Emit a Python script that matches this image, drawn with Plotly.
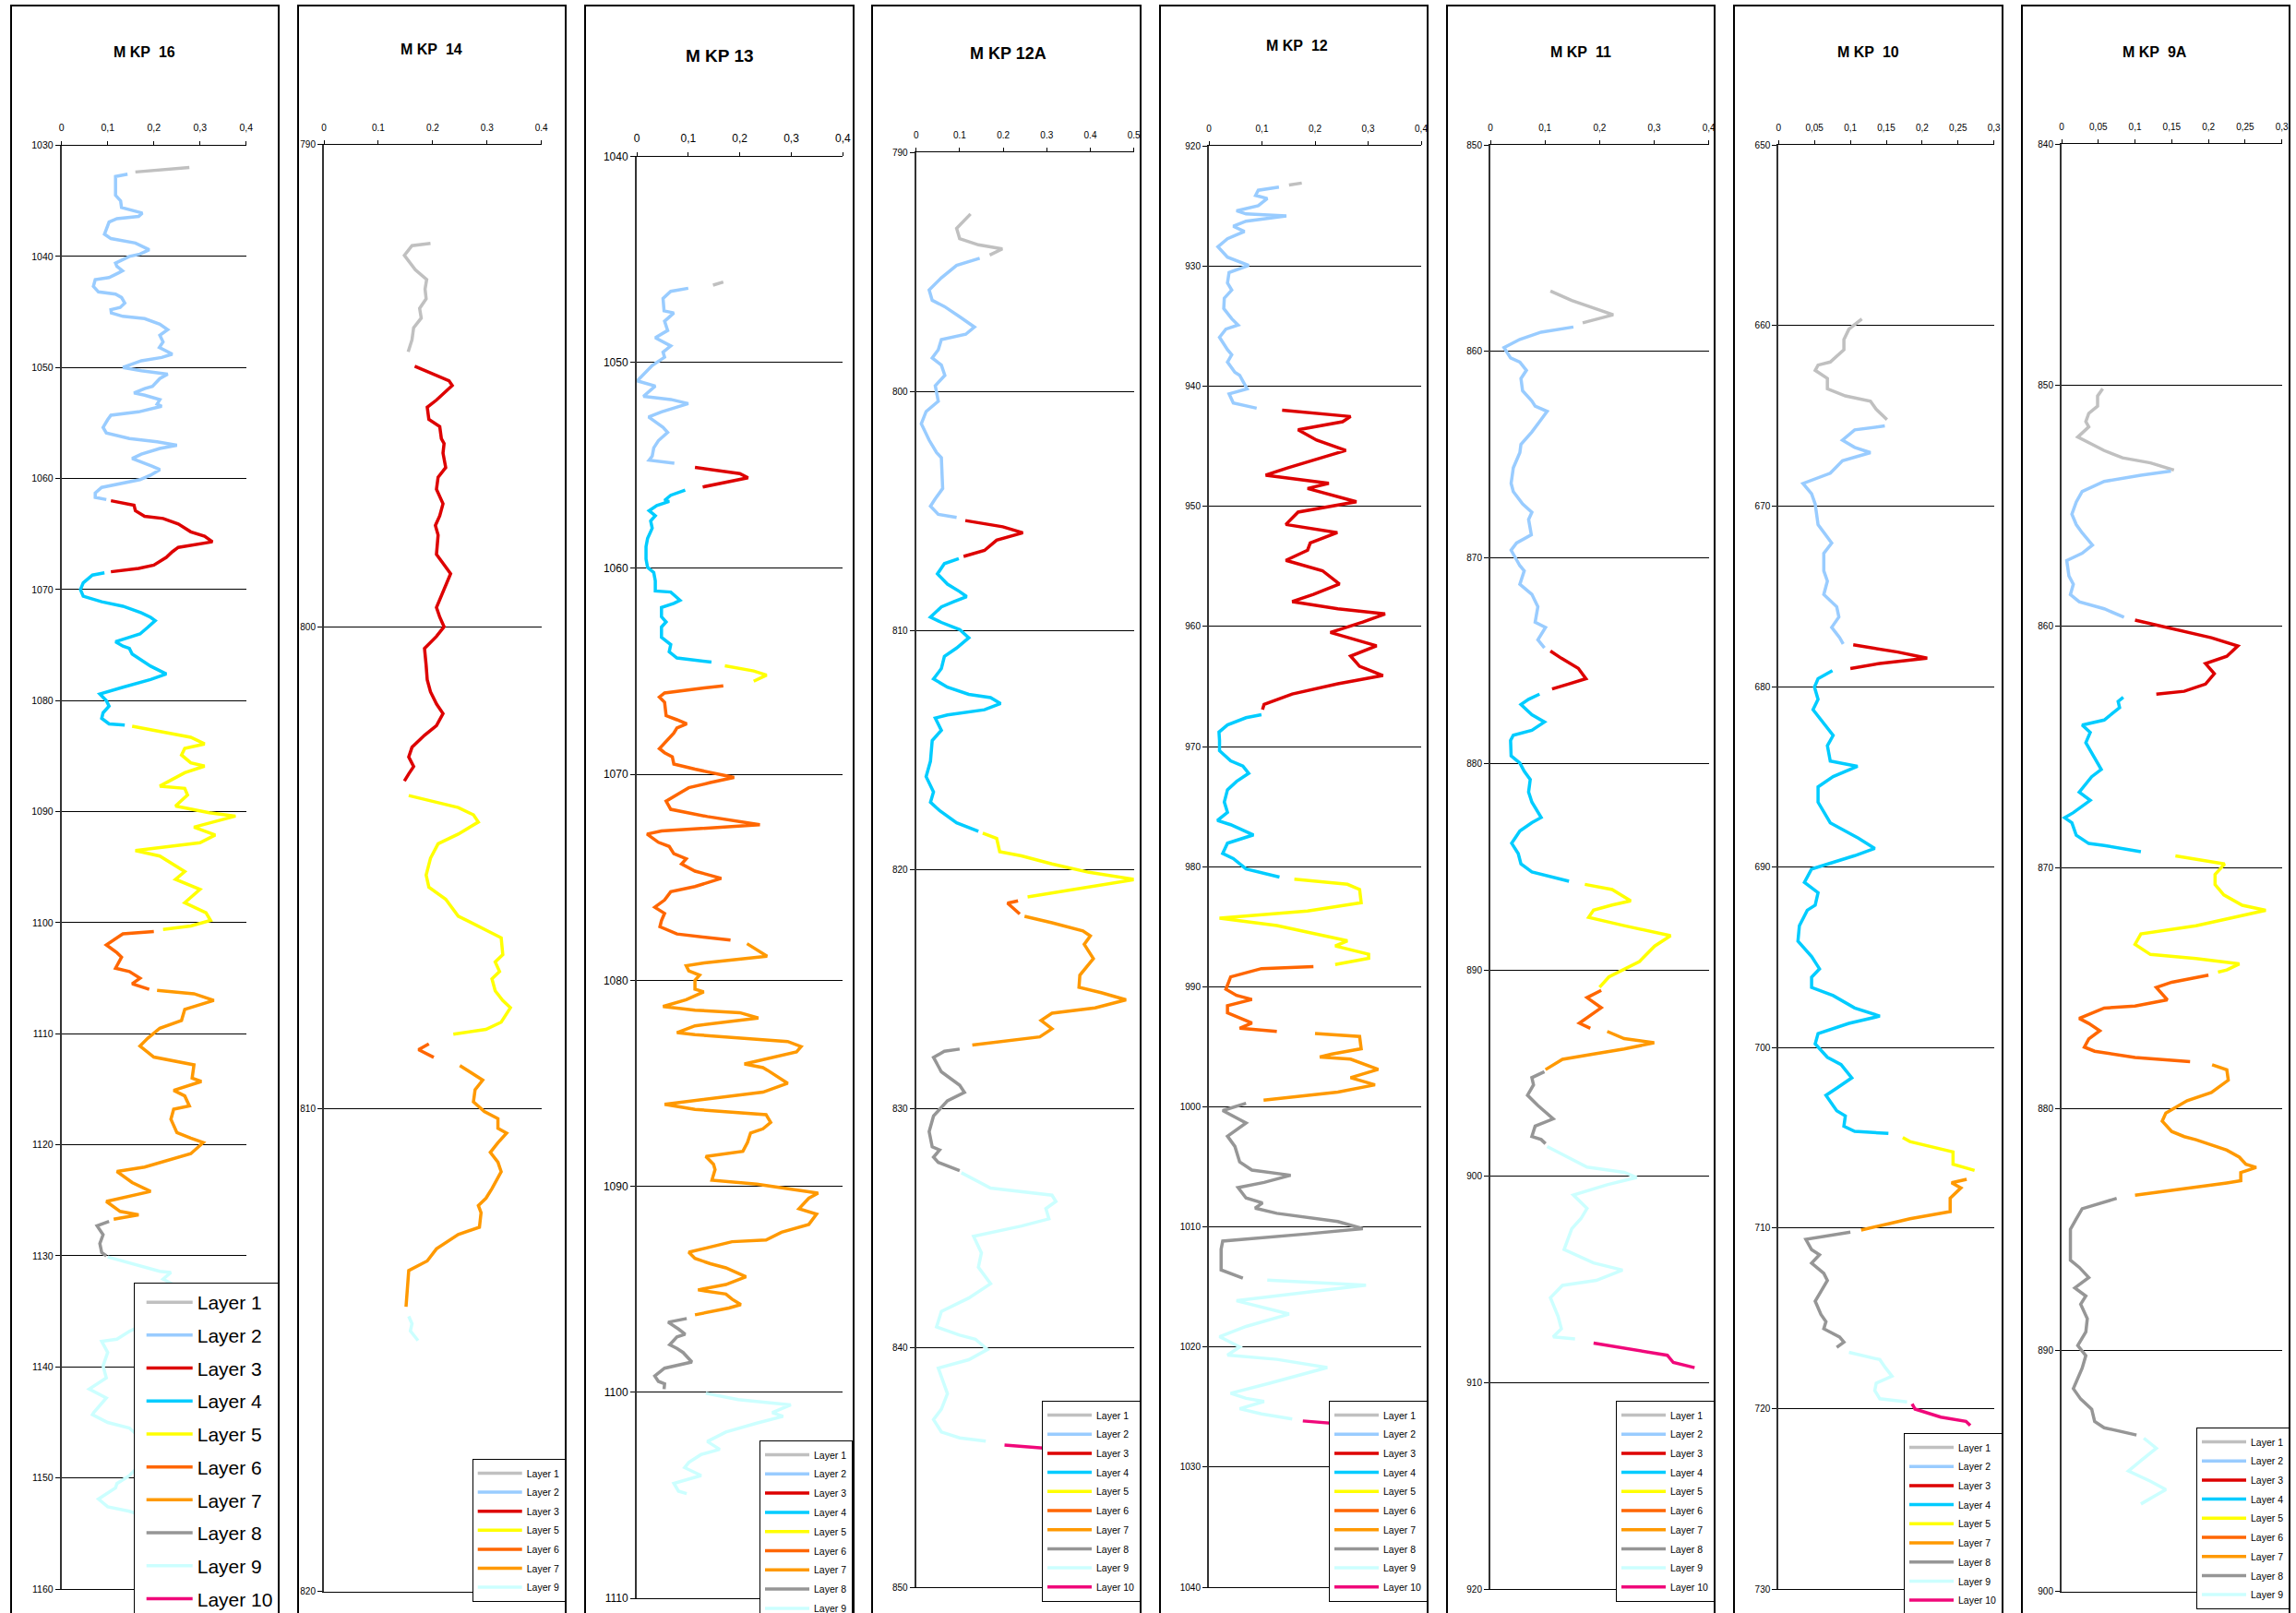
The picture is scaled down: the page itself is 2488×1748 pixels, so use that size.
import plotly.graph_objects as go

# ---------------------------------------------------------------------------
# Porosity logs per well and layer: (depth, porosity) pairs
# ---------------------------------------------------------------------------
LAYER_NAMES = ["Layer 1", "Layer 2", "Layer 3", "Layer 4", "Layer 5",
               "Layer 6", "Layer 7", "Layer 8", "Layer 9", "Layer 10"]

# ---- MKP 16 ----
MKP16_L1 = [(1032.0, .277), (1032.2, .215), (1032.4, .16)]
MKP16_L2 = [(1032.6, .143), (1032.8, .117), (1034.5, .117), (1035.0, .128), (1035.6, .13), (1035.9, .16),
            (1036.1, .175), (1036.4, .167), (1036.6, .12), (1036.9, .103), (1037.4, .099), (1038.0, .093),
            (1038.4, .107), (1038.8, .16), (1039.4, .19), (1039.8, .17), (1040.0, .147), (1040.6, .117),
            (1040.9, .12), (1041.3, .132), (1041.5, .123), (1041.9, .103), (1042.1, .073), (1042.7, .069),
            (1043.2, .08), (1043.4, .117), (1043.7, .13), (1044.2, .137), (1044.6, .127), (1044.8, .107),
            (1045.1, .108), (1045.4, .133), (1045.6, .18), (1046.1, .213), (1046.6, .23), (1047.1, .213),
            (1047.7, .22), (1048.2, .212), (1048.8, .24), (1049.1, .217), (1049.4, .173), (1050.0, .133),
            (1050.3, .173), (1050.6, .23), (1051.0, .213), (1051.7, .197), (1051.9, .18), (1052.3, .157),
            (1052.5, .18), (1052.9, .213), (1053.3, .207), (1053.5, .217), (1054.0, .167), (1054.3, .107),
            (1054.7, .1), (1055.4, .09), (1055.9, .097), (1056.4, .147), (1056.7, .207), (1057.0, .25),
            (1057.3, .213), (1057.8, .173), (1058.2, .153), (1058.5, .173), (1058.9, .197), (1059.2, .213),
            (1059.7, .193), (1060.1, .17), (1060.4, .133), (1060.8, .087), (1061.3, .073), (1061.7, .073),
            (1061.9, .097)]
MKP16_L3 = [(1062.0, .107), (1062.2, .133), (1062.4, .157), (1062.9, .16), (1063.4, .18), (1063.6, .22),
            (1064.1, .253), (1064.8, .28), (1065.2, .31), (1065.7, .327), (1065.9, .293), (1066.2, .253),
            (1066.6, .24), (1067.1, .227), (1067.8, .2), (1068.1, .167), (1068.4, .107)]
MKP16_L4 = [(1068.5, .093), (1068.7, .067), (1069.4, .047), (1070.0, .041), (1070.6, .047), (1071.1, .087),
            (1071.5, .133), (1072.1, .173), (1072.5, .193), (1072.8, .203), (1073.4, .187), (1074.0, .17),
            (1074.3, .147), (1074.7, .117), (1075.1, .133), (1075.3, .147), (1075.8, .153), (1076.5, .18),
            (1076.9, .193), (1077.6, .227), (1078.1, .193), (1078.8, .133), (1079.4, .083), (1080.0, .097),
            (1080.5, .103), (1081.1, .09), (1081.6, .087), (1082.1, .103), (1082.2, .137)]
MKP16_L5 = [(1082.3, .153), (1082.9, .233), (1083.3, .28), (1083.9, .31), (1084.3, .267), (1084.9, .26),
            (1085.6, .28), (1085.9, .31), (1086.5, .267), (1087.7, .213), (1087.9, .267), (1088.5, .273),
            (1089.5, .247), (1090.1, .32), (1090.4, .377), (1091.4, .287), (1092.1, .333), (1092.8, .3),
            (1093.5, .16), (1094.0, .213), (1095.4, .267), (1096.1, .247), (1097.0, .3), (1098.2, .267),
            (1099.1, .313), (1099.8, .323), (1100.3, .28), (1100.6, .22)]
MKP16_L6 = [(1100.8, .2), (1101.0, .133), (1102.0, .097), (1102.7, .12), (1103.1, .13), (1104.1, .117),
            (1104.4, .147), (1105.0, .17), (1105.5, .153), (1106.0, .19)]
MKP16_L7 = [(1106.1, .207), (1106.4, .287), (1107.0, .33), (1107.8, .267), (1108.8, .26), (1109.5, .213),
            (1110.4, .187), (1111.1, .17), (1112.1, .2), (1112.8, .287), (1114.0, .283), (1114.3, .303),
            (1115.1, .243), (1115.6, .267), (1116.5, .277), (1116.8, .243), (1117.7, .237), (1118.9, .25),
            (1119.4, .28), (1119.8, .307), (1120.8, .28), (1121.3, .24), (1122.0, .18), (1122.4, .12),
            (1123.4, .153), (1124.2, .193), (1124.6, .147), (1125.1, .097), (1126.0, .127), (1126.3, .167),
            (1126.7, .113)]
MKP16_L8 = [(1126.9, .103), (1127.3, .077), (1128.1, .09), (1128.9, .083), (1129.7, .087), (1130.0, .097)]
MKP16_L9 = [(1130.1, .1), (1130.9, .173), (1131.4, .213), (1131.5, .237), (1132.1, .22), (1132.6, .243),
            (1134.5, .26), (1136.8, .147), (1137.5, .12), (1137.7, .087), (1138.7, .1), (1139.9, .09),
            (1141.0, .097), (1142.0, .06), (1142.8, .097), (1144.1, .07), (1144.3, .067), (1145.0, .1),
            (1145.5, .147), (1147.5, .2), (1149.8, .147), (1150.5, .12), (1150.9, .117), (1151.9, .08),
            (1152.6, .1), (1153.0, .147), (1154.0, .22)]
MKP16_L10 = []

# ---- MKP 14 ----
MKP14_L1 = [(792.05, .196), (792.1, .162), (792.3, .148), (792.6, .168), (792.8, .189), (793.0, .186),
            (793.2, .188), (793.4, .176), (793.6, .179), (793.8, .165), (794.05, .162), (794.3, .155)]
MKP14_L2 = []
MKP14_L3 = [(794.6, .167), (794.9, .23), (795.0, .236), (795.3, .207), (795.45, .19), (795.7, .193),
            (795.85, .213), (796.1, .216), (796.2, .221), (796.4, .219), (796.7, .224), (796.9, .21),
            (797.15, .207), (797.45, .219), (797.7, .213), (797.9, .205), (798.1, .21), (798.5, .207),
            (798.9, .233), (799.3, .219), (799.6, .207), (799.8, .213), (800.0, .221), (800.2, .207),
            (800.45, .185), (800.8, .188), (801.1, .19), (801.35, .196), (801.6, .207), (801.8, .219),
            (802.05, .207), (802.25, .185), (802.5, .162), (802.7, .156), (802.9, .165), (803.05, .156),
            (803.2, .148)]
MKP14_L5 = [(803.5, .156), (803.75, .247), (803.9, .275), (804.05, .284), (804.3, .247), (804.5, .21),
            (804.8, .196), (805.15, .188), (805.4, .193), (805.65, .224), (806.0, .247), (806.2, .281),
            (806.45, .326), (806.8, .329), (806.95, .315), (807.15, .323), (807.3, .309), (807.55, .315),
            (807.75, .329), (807.9, .343), (808.2, .326), (808.35, .298), (808.45, .238)]
MKP14_L6 = [(808.65, .193), (808.77, .174), (808.93, .202)]
MKP14_L7 = [(809.1, .25), (809.3, .278), (809.4, .292), (809.6, .278), (809.85, .275), (810.05, .295),
            (810.2, .32), (810.4, .32), (810.5, .336), (810.7, .32), (810.9, .306), (811.1, .32),
            (811.3, .326), (811.65, .309), (811.85, .298), (812.0, .284), (812.15, .289), (812.45, .286),
            (812.6, .247), (812.9, .207), (813.15, .19), (813.35, .156), (813.65, .154), (814.1, .151)]
MKP14_L9 = [(814.3, .156), (814.45, .162), (814.6, .159), (814.8, .173)]

# ---- MKP 13 ----
MKP13_L1 = [(1046.1, .168), (1046.25, .148)]
MKP13_L2 = [(1046.4, .1), (1046.55, .066), (1046.9, .051), (1047.5, .053), (1047.6, .072), (1048.0, .054),
            (1048.45, .06), (1048.8, .036), (1049.2, .066), (1049.5, .051), (1049.75, .054), (1050.15, .03),
            (1050.9, .001), (1051.15, .036), (1051.65, .013), (1051.8, .066), (1052.0, .1), (1052.4, .048),
            (1052.65, .023), (1052.9, .036), (1053.15, .051), (1053.4, .06), (1053.8, .042), (1054.15, .033),
            (1054.55, .03), (1054.75, .024), (1054.85, .054), (1054.9, .073)]
MKP13_L3 = [(1055.1, .113), (1055.4, .2), (1055.6, .216), (1056.05, .128)]
MKP13_L4 = [(1056.2, .094), (1056.45, .066), (1056.7, .054), (1056.75, .063), (1056.95, .039), (1057.2, .024),
            (1057.45, .036), (1057.7, .027), (1058.05, .03), (1058.55, .021), (1058.95, .018), (1059.55, .018),
            (1059.95, .021), (1060.2, .033), (1060.6, .036), (1061.1, .036), (1061.15, .066), (1061.55, .084),
            (1061.7, .072), (1061.9, .048), (1062.35, .048), (1062.6, .057), (1062.85, .048), (1063.35, .048),
            (1063.7, .066), (1064.05, .063), (1064.35, .078), (1064.55, .145)]
MKP13_L5 = [(1064.73, .171), (1064.98, .227), (1065.18, .252), (1065.48, .227)]
MKP13_L6 = [(1065.7, .168), (1065.8, .131), (1066.05, .054), (1066.25, .044), (1066.5, .054), (1067.15, .057),
            (1067.35, .078), (1067.55, .097), (1067.75, .078), (1068.0, .072), (1068.75, .044), (1068.95, .054),
            (1069.15, .069), (1069.5, .072), (1069.75, .113), (1070.15, .189), (1070.4, .143), (1070.65, .101),
            (1070.9, .084), (1071.3, .057), (1071.7, .066), (1072.05, .137), (1072.45, .239), (1072.75, .048),
            (1072.9, .02), (1073.3, .042), (1073.5, .063), (1073.85, .072), (1074.1, .096), (1074.35, .087),
            (1074.7, .113), (1075.05, .164), (1075.45, .113), (1075.7, .066), (1076.1, .054), (1076.45, .035),
            (1076.75, .054), (1077.1, .048), (1077.4, .045), (1077.75, .078), (1078.05, .182)]
MKP13_L7 = [(1078.22, .214), (1078.53, .233), (1078.83, .253), (1079.16, .131), (1079.29, .096), (1079.54, .101),
            (1079.75, .122), (1080.0, .113), (1080.43, .113), (1080.56, .13), (1080.94, .096), (1081.27, .051),
            (1081.45, .113), (1081.57, .2), (1081.83, .236), (1082.21, .113), (1082.54, .078), (1082.64, .113),
            (1082.97, .293), (1083.22, .319), (1083.48, .31), (1084.06, .209), (1084.24, .245), (1084.37, .254),
            (1085.0, .293), (1085.43, .245), (1086.02, .054), (1086.27, .113), (1086.52, .251), (1086.9, .26),
            (1087.21, .245), (1087.41, .221), (1087.87, .215), (1088.3, .206), (1088.55, .134), (1088.93, .149),
            (1089.19, .152), (1089.7, .146), (1089.9, .233), (1090.33, .352), (1090.58, .334), (1091.09, .315),
            (1091.35, .349), (1091.85, .334), (1092.23, .281), (1092.61, .251), (1092.69, .185), (1093.2, .101),
            (1093.5, .113), (1093.76, .143), (1093.96, .173), (1094.39, .212), (1094.77, .173), (1095.03, .119),
            (1095.23, .173), (1095.48, .185), (1095.74, .202), (1095.91, .179), (1096.24, .113)]
MKP13_L8 = [(1096.42, .097), (1096.6, .061), (1096.93, .081), (1097.18, .094), (1097.31, .078), (1097.69, .064),
            (1097.87, .078), (1098.07, .09), (1098.53, .107), (1098.83, .054), (1099.21, .035), (1099.47, .042),
            (1099.59, .054), (1099.85, .053)]
MKP13_L9 = [(1100.05, .134), (1100.36, .197), (1100.61, .299), (1100.99, .263), (1101.17, .284), (1101.5, .233),
            (1101.93, .173), (1102.39, .137), (1102.77, .161), (1103.02, .125), (1103.41, .101), (1103.66, .093),
            (1104.04, .125), (1104.42, .072), (1104.8, .081), (1104.92, .097)]

# ---- MKP 12A ----
MKP12A_L1 = [(792.58, .125), (793.18, .093), (793.61, .1), (793.87, .143), (794.04, .198), (794.3, .169)]
MKP12A_L2 = [(794.43, .146), (794.73, .093), (795.25, .058), (795.76, .03), (796.19, .037), (796.45, .065),
             (796.88, .1), (797.31, .134), (797.61, .114), (797.83, .058), (798.26, .051), (798.6, .037),
             (798.9, .058), (799.33, .066), (799.76, .044), (800.41, .051), (800.84, .023), (801.35, .012),
             (802.04, .03), (802.56, .047), (802.77, .058), (804.06, .061), (804.49, .044), (804.8, .033),
             (805.14, .051), (805.27, .093)]
MKP12A_L3 = [(805.4, .113), (805.66, .199), (805.91, .245), (806.22, .185), (806.65, .157), (806.9, .109)]
MKP12A_L4 = [(806.99, .098), (807.2, .065), (807.63, .049), (808.06, .072), (808.37, .1), (808.58, .116),
             (808.8, .086), (809.01, .058), (809.44, .033), (809.66, .058), (809.96, .1), (810.3, .121),
             (810.73, .093), (811.08, .065), (811.59, .058), (812.02, .04), (812.37, .072), (812.67, .121),
             (812.8, .171), (813.05, .194), (813.31, .157), (813.53, .072), (813.66, .044), (814.17, .058),
             (814.6, .037), (815.46, .033), (816.11, .023), (816.75, .04), (817.18, .033), (817.53, .054),
             (818.04, .093), (818.39, .143)]
MKP12A_L5 = [(818.47, .153), (818.69, .185), (819.25, .192), (819.42, .242), (819.76, .312), (820.11, .397),
             (820.41, .503), (820.75, .383), (821.14, .256)]
MKP12A_L6 = [(821.3, .234), (821.4, .21), (821.85, .238)]
MKP12A_L7 = [(821.95, .249), (822.22, .312), (822.56, .383), (822.77, .4), (823.12, .386), (823.72, .407),
             (824.41, .376), (824.92, .374), (825.14, .425), (825.44, .482), (825.78, .411), (826.0, .312),
             (826.3, .287), (826.65, .312), (826.99, .284), (827.33, .129)]
MKP12A_L8 = [(827.5, .1), (827.59, .065), (827.85, .04), (828.45, .058), (829.01, .1), (829.31, .111),
             (829.66, .072), (830.3, .04), (830.95, .03), (831.59, .037), (831.72, .054), (832.02, .04),
             (832.24, .051), (832.58, .1)]
MKP12A_L9 = [(832.67, .104), (833.31, .171), (833.61, .312), (833.87, .321), (834.17, .298), (834.6, .305),
             (834.9, .242), (835.33, .132), (836.02, .15), (836.62, .143), (837.31, .171), (837.91, .121),
             (838.47, .058), (839.12, .047), (839.46, .1), (839.63, .136), (840.06, .164), (840.49, .121),
             (840.84, .051), (841.91, .072), (842.56, .058), (842.99, .04), (843.51, .058), (843.76, .1),
             (843.89, .16)]
MKP12A_L10 = [(844.06, .203), (844.19, .298), (844.35, .38)]

# ---- MKP 12 ----
MKP12_L1 = [(923.08, .175), (923.25, .151)]
MKP12_L2 = [(923.42, .132), (923.68, .093), (924.11, .088), (924.37, .11), (924.97, .093), (925.39, .052),
            (925.65, .07), (925.82, .146), (926.25, .07), (926.68, .046), (927.11, .067), (927.71, .035),
            (928.39, .017), (929.25, .035), (929.93, .075), (930.53, .038), (931.39, .035), (931.99, .043),
            (932.67, .029), (933.53, .028), (934.38, .043), (934.9, .055), (935.24, .032), (935.92, .02),
            (936.95, .035), (937.38, .043), (937.98, .035), (938.84, .049), (939.09, .058), (940.21, .072),
            (940.63, .038), (941.4, .046), (941.83, .09)]
MKP12_L3 = [(942.0, .138), (942.52, .267), (942.95, .252), (943.63, .168), (944.49, .203), (945.34, .258),
            (946.8, .148), (947.4, .107), (948.08, .226), (948.51, .186), (949.62, .278), (950.48, .168),
            (951.51, .145), (952.19, .242), (953.05, .191), (953.65, .186), (954.5, .145), (955.36, .214),
            (956.47, .246), (957.33, .197), (957.93, .157), (958.53, .243), (958.96, .332), (959.64, .29),
            (960.5, .229), (961.61, .316), (962.47, .267), (963.32, .284), (964.09, .328), (964.78, .243),
            (965.63, .157), (966.49, .104), (966.92, .101)]
MKP12_L4 = [(967.35, .099), (967.6, .07), (968.2, .035), (968.8, .019), (969.49, .02), (970.34, .02),
            (971.2, .041), (971.63, .064), (972.23, .075), (972.91, .052), (973.6, .035), (974.62, .029),
            (975.48, .035), (976.16, .016), (976.51, .041), (977.36, .084), (978.05, .035), (978.9, .026),
            (979.33, .046), (980.19, .07), (980.87, .133)]
MKP12_L5 = [(981.04, .161), (981.47, .261), (981.9, .284), (983.01, .287), (983.7, .186), (984.3, .02),
            (984.9, .128), (985.75, .22), (986.18, .261), (986.61, .238), (987.29, .301), (987.64, .301),
            (988.15, .238)]
MKP12_L6 = [(988.32, .197), (988.49, .099), (989.18, .041), (990.21, .032), (990.72, .052), (991.06, .081),
            (991.58, .035), (992.17, .035), (993.03, .081), (993.46, .058), (993.72, .128)]
MKP12_L7 = [(993.89, .2), (994.14, .284), (995.17, .287), (995.6, .232), (995.86, .209), (996.03, .267),
            (996.88, .319), (997.57, .267), (998.17, .313), (998.77, .243), (999.45, .103)]
MKP12_L8 = [(999.71, .07), (1000.31, .026), (1001.34, .07), (1002.45, .035), (1003.3, .049), (1004.59, .058),
            (1005.27, .081), (1005.7, .154), (1006.3, .104), (1006.73, .055), (1007.59, .07), (1008.01, .101),
            (1008.44, .087), (1008.87, .128), (1009.55, .243), (1010.15, .29), (1010.58, .186), (1011.18, .026),
            (1011.87, .023), (1013.58, .023), (1014.26, .064)]
MKP12_L9 = [(1014.43, .11), (1014.86, .296), (1016.15, .052), (1017.26, .151), (1018.29, .07), (1019.14, .02),
            (1020.0, .058), (1020.68, .035), (1021.03, .128), (1021.71, .223), (1023.0, .116), (1023.85, .041),
            (1024.28, .07), (1024.54, .104), (1025.14, .058), (1025.57, .099), (1026.0, .157)]
MKP12_L10 = [(1026.16, .177), (1026.34, .235), (1026.6, .3)]

# ---- MKP 11 ----
MKP11_L1 = [(857.08, .11), (857.53, .149), (858.23, .225), (858.62, .169)]
MKP11_L2 = [(858.82, .152), (859.07, .093), (859.42, .054), (859.82, .025), (860.32, .037), (860.52, .054),
            (860.92, .066), (861.32, .056), (861.91, .059), (862.41, .076), (862.66, .082), (862.91, .104),
            (863.41, .09), (863.91, .076), (864.51, .056), (864.91, .054), (865.65, .042), (866.4, .038),
            (866.8, .042), (867.4, .059), (867.8, .076), (868.15, .07), (868.89, .075), (869.29, .048),
            (869.64, .038), (870.39, .054), (870.64, .062), (871.29, .054), (871.78, .076), (872.38, .087),
            (873.13, .082), (873.38, .101), (873.98, .087), (874.38, .099)]
MKP11_L3 = [(874.53, .11), (874.88, .13), (875.37, .161), (875.87, .175), (876.12, .144), (876.37, .113)]
MKP11_L4 = [(876.62, .09), (876.87, .07), (877.12, .056), (877.62, .076), (877.97, .099), (878.37, .076),
            (878.61, .042), (878.86, .037), (879.61, .038), (879.96, .054), (880.36, .062), (880.76, .073),
            (881.36, .07), (881.85, .076), (882.6, .093), (882.85, .076), (883.25, .054), (883.85, .039),
            (884.35, .051), (884.85, .056), (885.24, .076), (885.69, .144)]
MKP11_L5 = [(885.84, .173), (886.09, .223), (886.64, .257), (886.84, .223), (887.09, .189), (887.44, .18),
            (887.84, .245), (888.33, .33), (888.83, .301), (889.58, .273), (890.33, .217), (890.83, .2)]
MKP11_L6 = [(890.98, .203), (891.33, .177), (891.82, .203), (892.07, .189), (892.57, .163), (892.82, .183)]
MKP11_L7 = [(892.97, .214), (893.32, .245), (893.52, .3), (893.82, .245), (894.07, .189), (894.32, .132),
            (894.82, .101)]
MKP11_L8 = [(894.92, .099), (895.21, .076), (895.56, .079), (896.06, .068), (896.56, .087), (897.21, .115),
            (897.56, .082), (898.06, .076), (898.21, .093), (898.41, .101)]
MKP11_L9 = [(898.55, .104), (899.55, .177), (899.8, .245), (900.05, .268), (900.4, .214), (900.9, .152),
            (901.55, .177), (902.04, .166), (902.54, .149), (903.54, .135), (904.19, .189), (904.54, .242),
            (905.04, .194), (905.28, .132), (905.88, .11), (906.78, .124), (907.38, .13), (907.78, .115),
            (907.88, .155)]
MKP11_L10 = [(908.08, .189), (908.67, .324), (909.02, .335), (909.27, .374)]

# ---- MKP 10 ----
MKP10_L1 = [(659.63, .116), (660.2, .098), (660.77, .091), (661.34, .091), (662.02, .072), (662.19, .055),
            (662.48, .051), (662.93, .068), (663.5, .068), (663.9, .093), (664.19, .128), (664.64, .136),
            (665.21, .151)]
MKP10_L2 = [(665.56, .148), (665.78, .106), (666.35, .089), (666.75, .106), (667.04, .128), (667.49, .089),
            (668.18, .072), (668.75, .034), (669.32, .046), (669.89, .051), (671.03, .055), (671.48, .063),
            (672.05, .074), (672.62, .063), (673.59, .063), (674.16, .068), (674.9, .063), (675.58, .081),
            (676.15, .084), (676.72, .074), (677.29, .085), (677.64, .09)]
MKP10_L3 = [(677.69, .104), (678.09, .166), (678.43, .207), (678.72, .141), (679.0, .1)]
MKP10_L4 = [(679.12, .075), (679.57, .055), (680.03, .05), (680.71, .055), (681.28, .048), (681.85, .059),
            (682.71, .076), (683.28, .068), (684.13, .072), (684.42, .11), (684.99, .076), (685.56, .055),
            (686.41, .055), (687.55, .072), (688.4, .111), (688.97, .134), (689.37, .106), (690.11, .046),
            (690.85, .036), (691.42, .055), (692.11, .051), (692.39, .04), (693.25, .029), (694.1, .027),
            (694.96, .046), (695.64, .057), (696.1, .046), (696.67, .046), (697.12, .076), (697.81, .106),
            (698.26, .141), (698.66, .098), (699.23, .055), (699.8, .051), (700.54, .068), (700.94, .087),
            (701.68, .102), (702.25, .081), (702.65, .066), (703.5, .081), (703.79, .093), (704.36, .091),
            (704.64, .106), (704.76, .153)]
MKP10_L5 = [(704.99, .173), (705.21, .183), (705.78, .243), (706.47, .243), (706.81, .273)]
MKP10_L7 = [(707.3, .262), (707.49, .241), (707.78, .254), (708.35, .239), (709.09, .239), (709.49, .183),
            (709.77, .153), (710.11, .115)]
MKP10_L8 = [(710.23, .1), (710.63, .038), (711.2, .046), (711.48, .057), (711.94, .046), (712.51, .063),
            (712.91, .068), (713.76, .055), (714.05, .051), (714.79, .059), (715.19, .066), (715.58, .063),
            (716.04, .085), (716.32, .091), (716.61, .081)]
MKP10_L9 = [(716.89, .098), (717.29, .141), (717.75, .149), (718.21, .158), (718.6, .136), (719.0, .134),
            (719.46, .141), (719.63, .179)]
MKP10_L10 = [(719.74, .186), (720.03, .19), (720.48, .226), (720.71, .261), (720.94, .267)]

# ---- MKP 9A ----
MKP9A_L1 = [(850.15, .056), (850.45, .049), (850.87, .049), (851.17, .037), (851.51, .033), (851.73, .037),
            (852.15, .022), (852.45, .041), (852.71, .058), (853.01, .083), (853.22, .121), (853.52, .153)]
MKP9A_L2 = [(853.56, .149), (853.73, .108), (853.99, .058), (854.41, .028), (854.84, .02), (855.35, .014),
            (855.78, .02), (856.12, .028), (856.63, .042), (856.97, .028), (857.27, .007), (857.91, .01),
            (858.25, .016), (858.68, .012), (858.98, .024), (859.27, .058), (859.62, .085)]
MKP9A_L3 = [(859.74, .1), (860.04, .142), (860.47, .204), (860.81, .24), (861.24, .225), (861.54, .196),
            (861.96, .208), (862.39, .196), (862.69, .167), (862.81, .129)]
MKP9A_L4 = [(862.94, .084), (863.11, .077), (863.37, .079), (863.88, .058), (864.09, .028), (864.39, .039),
            (864.82, .033), (865.37, .043), (865.93, .054), (866.23, .041), (866.87, .024), (867.21, .039),
            (867.72, .016), (867.93, .004), (868.14, .014), (868.66, .02), (869.0, .037), (869.08, .058),
            (869.34, .108)]
MKP9A_L5 = [(869.51, .155), (869.77, .204), (869.85, .222), (870.28, .209), (870.7, .209), (871.13, .221),
            (871.56, .246), (871.77, .278), (871.98, .246), (872.41, .183), (872.75, .108), (873.18, .1),
            (873.6, .121), (873.77, .183), (873.99, .242), (874.24, .225), (874.33, .213)]
MKP9A_L6 = [(874.46, .2), (874.75, .15), (874.97, .129), (875.48, .144), (875.74, .1), (875.82, .058),
            (876.25, .024), (876.46, .037), (876.76, .052), (877.1, .037), (877.44, .031), (877.61, .045),
            (877.87, .1), (878.04, .175)]
MKP9A_L7 = [(878.17, .205), (878.38, .225), (878.81, .227), (879.32, .204), (879.66, .171), (880.17, .142),
            (880.51, .137), (880.94, .15), (881.15, .167), (881.28, .183), (881.71, .225), (882.0, .242),
            (882.3, .251), (882.43, .265), (882.64, .244), (882.98, .244), (883.07, .225), (883.41, .142),
            (883.58, .1)]
MKP9A_L8 = [(883.71, .075), (884.14, .028), (884.56, .02), (884.99, .012), (886.27, .012), (886.57, .024),
            (886.99, .037), (887.42, .018), (887.76, .033), (888.1, .026), (888.7, .035), (889.25, .033),
            (889.81, .022), (890.23, .033), (890.75, .028), (891.6, .016), (892.03, .026), (892.45, .041),
            (892.96, .045), (893.22, .058), (893.52, .102)]
MKP9A_L9 = [(893.65, .112), (894.07, .129), (894.58, .108), (895.01, .091), (895.44, .121), (895.78, .142),
            (896.08, .125), (896.38, .108)]

# Layers drawn in each well (layer number, series)
WELL_SERIES = {
    "16": [(1, MKP16_L1), (2, MKP16_L2), (3, MKP16_L3), (4, MKP16_L4), (5, MKP16_L5), (6, MKP16_L6),
           (7, MKP16_L7), (8, MKP16_L8), (9, MKP16_L9), (10, MKP16_L10)],
    "14": [(1, MKP14_L1), (2, MKP14_L2), (3, MKP14_L3), (5, MKP14_L5), (6, MKP14_L6), (7, MKP14_L7),
           (9, MKP14_L9)],
    "13": [(1, MKP13_L1), (2, MKP13_L2), (3, MKP13_L3), (4, MKP13_L4), (5, MKP13_L5), (6, MKP13_L6),
           (7, MKP13_L7), (8, MKP13_L8), (9, MKP13_L9)],
    "12A": [(1, MKP12A_L1), (2, MKP12A_L2), (3, MKP12A_L3), (4, MKP12A_L4), (5, MKP12A_L5), (6, MKP12A_L6),
            (7, MKP12A_L7), (8, MKP12A_L8), (9, MKP12A_L9), (10, MKP12A_L10)],
    "12": [(1, MKP12_L1), (2, MKP12_L2), (3, MKP12_L3), (4, MKP12_L4), (5, MKP12_L5), (6, MKP12_L6),
           (7, MKP12_L7), (8, MKP12_L8), (9, MKP12_L9), (10, MKP12_L10)],
    "11": [(1, MKP11_L1), (2, MKP11_L2), (3, MKP11_L3), (4, MKP11_L4), (5, MKP11_L5), (6, MKP11_L6),
           (7, MKP11_L7), (8, MKP11_L8), (9, MKP11_L9), (10, MKP11_L10)],
    "10": [(1, MKP10_L1), (2, MKP10_L2), (3, MKP10_L3), (4, MKP10_L4), (5, MKP10_L5), (7, MKP10_L7),
           (8, MKP10_L8), (9, MKP10_L9), (10, MKP10_L10)],
    "9A": [(1, MKP9A_L1), (2, MKP9A_L2), (3, MKP9A_L3), (4, MKP9A_L4), (5, MKP9A_L5), (6, MKP9A_L6),
           (7, MKP9A_L7), (8, MKP9A_L8), (9, MKP9A_L9)],
}

# Porosity tick labels
TICKS_04_COMMA = ["0", "0,1", "0,2", "0,3", "0,4"]
TICKS_04_DOT = ["0", "0.1", "0.2", "0.3", "0.4"]
TICKS_05_DOT = ["0", "0.1", "0.2", "0.3", "0.4", "0.5"]
TICKS_03_COMMA = ["0", "0,05", "0,1", "0,15", "0,2", "0,25", "0,3"]

# ---------------------------------------------------------------------------
# Styling
# ---------------------------------------------------------------------------
W, H = 2488, 1748
FONT = "Liberation Sans, Arial, sans-serif"
LAYER_COLORS = ["#C0C0C0", "#99CCFF", "#DD0000", "#00CCFF", "#FFFF00",
                "#FF6600", "#FF9900", "#969696", "#CCFFFF", "#F0087A"]

# panel geometry in pixels
PANELS = [
    dict(well="16", title="M KP\u00a0\u00a016", frame=(12, 302), px=(66.7, 266.7), py=(157.5, 1722),
         depth=(1030, 1160), xmax=0.4, ticks=TICKS_04_COMMA, tfont=10.5, title_xy=(156, 56), title_size=16,
         leg=dict(right=301.7, top=1390, size=21, gap=5.4, iw=50, indent=8)),
    dict(well="14", title="M KP\u00a0\u00a014", frame=(323, 613), px=(351, 586.7), py=(156.5, 1724.5),
         depth=(790, 820), xmax=0.4, ticks=TICKS_04_DOT, tfont=10, title_xy=(467, 53.5), title_size=16,
         leg=dict(right=612.7, top=1581, size=10.5, gap=1.6, iw=48, indent=0)),
    dict(well="13", title="M KP 13", frame=(634, 925), px=(690, 913.3), py=(169.5, 1732),
         depth=(1040, 1110), xmax=0.4, ticks=TICKS_04_COMMA, tfont=12, title_xy=(780, 60), title_size=19,
         leg=dict(right=924, top=1561, size=10.5, gap=1.8, iw=48, indent=0)),
    dict(well="12A", title="M KP 12A", frame=(945, 1236), px=(992.7, 1228.7), py=(165, 1720),
         depth=(790, 850), xmax=0.5, ticks=TICKS_05_DOT, tfont=10, title_xy=(1092, 58), title_size=18,
         leg=dict(right=1236, top=1518, size=10.5, gap=1.7, iw=48, indent=0)),
    dict(well="12", title="M KP\u00a0\u00a012", frame=(1257, 1547), px=(1310, 1540), py=(158.3, 1720),
         depth=(920, 1040), xmax=0.4, ticks=TICKS_04_COMMA, tfont=10, title_xy=(1405, 49), title_size=16,
         leg=dict(right=1547, top=1518, size=10.5, gap=1.7, iw=48, indent=0)),
    dict(well="11", title="M KP\u00a0\u00a011", frame=(1568, 1858), px=(1615, 1851.7), py=(157.2, 1722),
         depth=(850, 920), xmax=0.4, ticks=TICKS_04_COMMA, tfont=10, title_xy=(1713, 56), title_size=16,
         leg=dict(right=1858, top=1518, size=10.5, gap=1.7, iw=48, indent=0)),
    dict(well="10", title="M KP\u00a0\u00a010", frame=(1879, 2170), px=(1927.3, 2160.7), py=(157.2, 1722),
         depth=(650, 730), xmax=0.3, ticks=TICKS_03_COMMA, tfont=10, title_xy=(2024, 56), title_size=16,
         leg=dict(right=2170, top=1553, size=10.5, gap=1.7, iw=48, indent=0)),
    dict(well="9A", title="M KP\u00a0\u00a09A", frame=(2191, 2481), px=(2234, 2472.7), py=(156, 1724.5),
         depth=(840, 900), xmax=0.3, ticks=TICKS_03_COMMA, tfont=10, title_xy=(2335, 56), title_size=16,
         leg=dict(right=2481, top=1547, size=10.5, gap=1.7, iw=48, indent=0)),
]

fig = go.Figure()
layout = dict(
    width=W, height=H,
    margin=dict(l=0, r=0, t=0, b=0, autoexpand=False),
    paper_bgcolor="white", plot_bgcolor="white",
    font=dict(family=FONT, color="black"),
    showlegend=True, hovermode=False,
)
shapes, annotations = [], []

for i, p in enumerate(PANELS):
    n = i + 1
    xa = "x" if n == 1 else f"x{n}"
    ya = "y" if n == 1 else f"y{n}"
    leg_id = "legend" if n == 1 else f"legend{n}"
    xmax = p["xmax"]
    step = 0.1 if len(p["ticks"]) in (5, 6) else 0.05
    tickvals = [round(k * step, 3) for k in range(len(p["ticks"]))]
    d0, d1 = p["depth"]

    layout[f"xaxis{'' if n == 1 else n}"] = dict(
        domain=[p["px"][0] / W, p["px"][1] / W], range=[0, xmax], anchor=ya, side="top",
        tickmode="array", tickvals=tickvals, ticktext=p["ticks"],
        ticks="outside", ticklen=4, tickwidth=1, tickcolor="black", ticklabelstandoff=6,
        showline=True, linecolor="black", linewidth=1, mirror=True,
        showgrid=False, zeroline=False, fixedrange=True,
        tickfont=dict(size=p["tfont"], family=FONT, color="black"),
    )
    layout[f"yaxis{'' if n == 1 else n}"] = dict(
        domain=[1 - p["py"][1] / H, 1 - p["py"][0] / H], range=[d1, d0], anchor=xa,
        tickmode="array", tickvals=list(range(d0, d1 + 1, 10)),
        ticks="outside", ticklen=5, tickwidth=1, tickcolor="black",
        showline=True, linecolor="#333333", linewidth=2,
        showgrid=True, gridcolor="black", gridwidth=1, zeroline=False, fixedrange=True,
        tickfont=dict(size=p["tfont"], family=FONT, color="black"),
    )

    lg = p["leg"]
    layout[leg_id] = dict(
        x=lg["right"] / W, xanchor="right", y=1 - lg["top"] / H, yanchor="top",
        bgcolor="white", bordercolor="black", borderwidth=1,
        font=dict(size=lg["size"], family=FONT, color="black"),
        itemwidth=lg["iw"], tracegroupgap=lg["gap"], traceorder="grouped",
        indentation=lg["indent"], itemclick=False, itemdoubleclick=False,
    )

    for layer, series in WELL_SERIES[p["well"]]:
        depths = [d for d, v in series] or [None]
        values = [v for d, v in series] or [None]
        fig.add_trace(go.Scatter(
            x=values, y=depths, mode="lines", name=LAYER_NAMES[layer - 1],
            line=dict(color=LAYER_COLORS[layer - 1], width=3.5),
            xaxis=xa, yaxis=ya, legend=leg_id, legendgroup=f"w{n}l{layer}",
            showlegend=True, cliponaxis=True,
        ))

    # panel frame (open at the bottom edge of the page)
    fx0, fx1 = p["frame"]
    shapes.append(dict(type="rect", xref="paper", yref="paper",
                       x0=fx0 / W, x1=fx1 / W, y0=-0.05, y1=1 - 6 / H,
                       line=dict(color="black", width=2), fillcolor="rgba(0,0,0,0)", layer="below"))
    tx, ty = p["title_xy"]
    annotations.append(dict(text=f"<b>{p['title']}</b>", xref="paper", yref="paper",
                            x=tx / W, y=1 - ty / H, xanchor="center", yanchor="middle",
                            showarrow=False, font=dict(size=p["title_size"], family=FONT, color="black")))

layout["shapes"] = shapes
layout["annotations"] = annotations
fig.update_layout(**layout)
fig.write_html("out.html")
